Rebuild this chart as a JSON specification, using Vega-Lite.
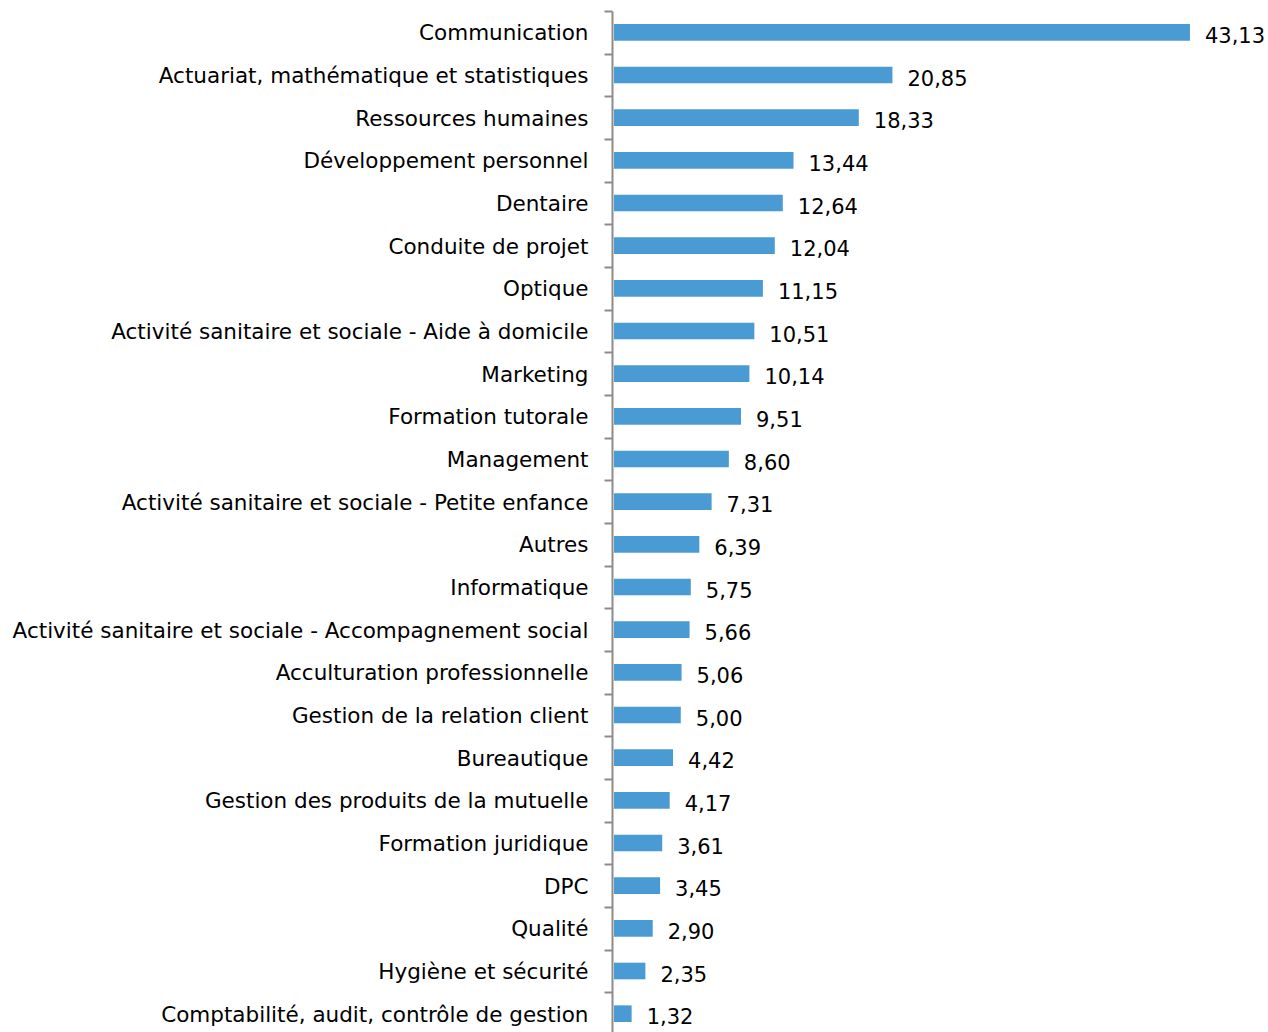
{
  "$schema": "https://vega.github.io/schema/vega-lite/v6.json",
  "width": 641,
  "height": 1024,
  "autosize": {"type": "none"},
  "padding": {"left": 612, "top": 11, "right": 15, "bottom": 0},
  "background": "white",
  "config": {
    "view": {"stroke": null},
    "locale": {"number": {"decimal": ",", "thousands": " ", "grouping": [3], "currency": ["", " €"]}}
  },
  "data": {
    "values": [
      {"domaine": "Communication", "valeur": 43.13},
      {"domaine": "Actuariat, mathématique et statistiques", "valeur": 20.85},
      {"domaine": "Ressources humaines", "valeur": 18.33},
      {"domaine": "Développement personnel", "valeur": 13.44},
      {"domaine": "Dentaire", "valeur": 12.64},
      {"domaine": "Conduite de projet", "valeur": 12.04},
      {"domaine": "Optique", "valeur": 11.15},
      {"domaine": "Activité sanitaire et sociale - Aide à domicile", "valeur": 10.51},
      {"domaine": "Marketing", "valeur": 10.14},
      {"domaine": "Formation tutorale", "valeur": 9.51},
      {"domaine": "Management", "valeur": 8.60},
      {"domaine": "Activité sanitaire et sociale - Petite enfance", "valeur": 7.31},
      {"domaine": "Autres", "valeur": 6.39},
      {"domaine": "Informatique", "valeur": 5.75},
      {"domaine": "Activité sanitaire et sociale - Accompagnement social", "valeur": 5.66},
      {"domaine": "Acculturation professionnelle", "valeur": 5.06},
      {"domaine": "Gestion de la relation client", "valeur": 5.00},
      {"domaine": "Bureautique", "valeur": 4.42},
      {"domaine": "Gestion des produits de la mutuelle", "valeur": 4.17},
      {"domaine": "Formation juridique", "valeur": 3.61},
      {"domaine": "DPC", "valeur": 3.45},
      {"domaine": "Qualité", "valeur": 2.90},
      {"domaine": "Hygiène et sécurité", "valeur": 2.35},
      {"domaine": "Comptabilité, audit, contrôle de gestion", "valeur": 1.32}
    ]
  },
  "encoding": {
    "y": {
      "field": "domaine",
      "type": "nominal",
      "sort": null,
      "scale": {"paddingInner": 0, "paddingOuter": 0},
      "axis": {
        "title": null,
        "domainColor": "#8c8c8c",
        "domainWidth": 2,
        "tickColor": "#8c8c8c",
        "tickWidth": 2,
        "tickSize": 8,
        "tickBand": "extent",
        "labelFont": "DejaVu Sans",
        "labelFontSize": 21.5,
        "labelOffset": 1.5,
        "labelColor": "#000000",
        "labelPadding": 16,
        "labelLimit": 700
      }
    },
    "x": {
      "field": "valeur",
      "type": "quantitative",
      "scale": {"domain": [0, 48], "nice": false},
      "axis": null
    }
  },
  "layer": [
    {"mark": {"type": "bar", "color": "#4a9bd4", "xOffset": 2, "height": {"band": 0.39}}},
    {
      "mark": {"type": "text", "align": "left", "baseline": "middle", "dx": 17, "dy": 4.5, "font": "DejaVu Sans", "fontSize": 21, "color": "#000000"},
      "encoding": {"text": {"field": "valeur", "type": "quantitative", "format": ".2f"}}
    }
  ]
}
